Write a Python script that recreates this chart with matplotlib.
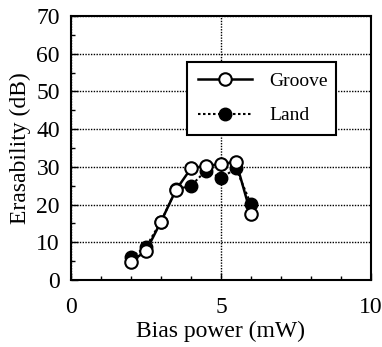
import matplotlib
matplotlib.use("Agg")
import matplotlib.pyplot as plt
from matplotlib.ticker import MultipleLocator

plt.rcParams['font.family'] = ['Liberation Serif', 'DejaVu Serif']

bias_power = [2.0, 2.5, 3.0, 3.5, 4.0, 4.5, 5.0, 5.5, 6.0]
groove = [4.9, 7.7, 15.5, 23.9, 29.6, 30.3, 30.7, 31.4, 17.4]
land = [6.0, 8.8, 15.5, 24.0, 25.0, 29.0, 27.0, 29.6, 20.1]
x_ticks = [0, 5, 10]
y_ticks = [0, 10, 20, 30, 40, 50, 60, 70]

fig = plt.figure(figsize=(3.82, 3.47), dpi=100)
ax = fig.add_axes([0.186, 0.193, 0.785, 0.761])

ax.plot(bias_power, land, linestyle=(0, (1.2, 1.2)), color='black', lw=1.5,
        marker='o', markersize=9, markerfacecolor='black', markeredgecolor='black',
        label='Land', zorder=3)
ax.plot(bias_power, groove, linestyle='-', color='black', lw=1.8,
        marker='o', markersize=9, markerfacecolor='white', markeredgecolor='black',
        markeredgewidth=1.5, label='Groove', zorder=4)

ax.set_xlim(0, 10)
ax.set_ylim(0, 70)
ax.set_xticks(x_ticks)
ax.set_yticks(y_ticks)
ax.xaxis.set_minor_locator(MultipleLocator(1))
ax.yaxis.set_minor_locator(MultipleLocator(5))
ax.tick_params(which='both', direction='in', top=False, right=False, labelsize=17)
ax.tick_params(which='major', length=5, width=1)
ax.tick_params(which='minor', length=3, width=1)
ax.tick_params(axis='x', pad=12)
ax.tick_params(axis='y', pad=8)
ax.grid(True, which='major', linestyle=(0, (1, 1)), color='black', lw=1)
for s in ax.spines.values():
    s.set_linewidth(1.5)

ax.set_xlabel('Bias power (mW)', fontsize=17, labelpad=2)
ax.set_ylabel('Erasability (dB)', fontsize=17, labelpad=4)

handles, labels = ax.get_legend_handles_labels()
leg = ax.legend(handles[::-1], labels[::-1], loc='upper left',
                bbox_to_anchor=(0.387, 0.542, 0.496, 0.284), mode='expand',
                fontsize=14, frameon=True, fancybox=False, edgecolor='black',
                framealpha=1, handlelength=2.8, labelspacing=0.85,
                borderpad=0.55, handletextpad=0.9, borderaxespad=0)
leg.get_frame().set_linewidth(1.5)

fig.savefig('out.png', dpi=100)
